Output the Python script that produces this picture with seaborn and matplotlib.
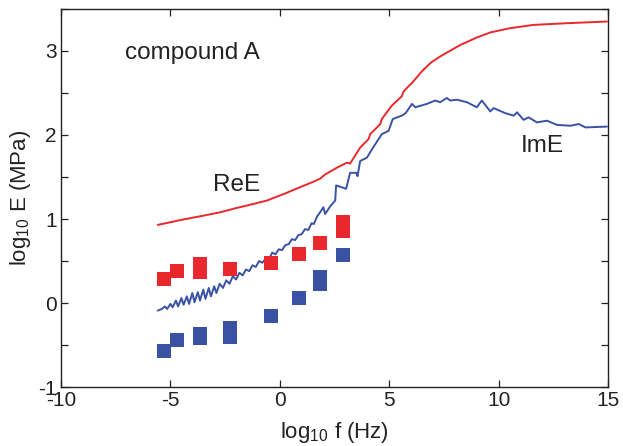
import numpy as np
import pandas as pd
import matplotlib
matplotlib.use("Agg")
import matplotlib.pyplot as plt
from matplotlib.ticker import MultipleLocator
import seaborn as sns

# ---- data ----
re_x = [-5.58, -4.5, -3.5, -2.73, -2.0, -1.2, -0.59, 0.2, 0.93, 1.5, 1.84, 2.07, 2.6, 3.06,
        3.21, 3.67, 4.05, 4.13, 4.59, 4.66, 5.12, 5.57, 5.66, 6.11, 6.5, 6.9, 7.3, 7.63,
        8.24, 9.0, 9.62, 10.5, 11.6, 13.12, 14.95]
re_y = [0.93, 0.99, 1.04, 1.08, 1.13, 1.18, 1.22, 1.30, 1.38, 1.44, 1.48, 1.53, 1.61, 1.67,
        1.66, 1.85, 1.95, 2.01, 2.13, 2.19, 2.35, 2.46, 2.52, 2.64, 2.76, 2.86, 2.93, 2.98,
        3.07, 3.16, 3.22, 3.27, 3.31, 3.33, 3.35]

im_x = [-5.58, -5.40, -5.25, -5.15, -5.00, -4.90, -4.75, -4.65, -4.50, -4.40, -4.25, -4.15,
        -4.00, -3.90, -3.75, -3.65, -3.50, -3.40, -3.25, -3.15, -3.00, -2.90, -2.75, -2.60,
        -2.45, -2.30, -2.15, -2.00, -1.85, -1.70, -1.55, -1.40, -1.25, -1.10, -0.95, -0.80,
        -0.65, -0.50, -0.35, -0.20, -0.05, 0.10, 0.25, 0.40, 0.55, 0.70, 0.85, 1.00, 1.15,
        1.30, 1.45, 1.55, 1.70, 1.84, 1.99, 2.07, 2.30, 2.53, 2.57, 3.03, 3.21, 3.49, 3.55,
        3.67, 3.98, 4.21, 4.66, 4.97, 5.16, 5.57, 5.75, 6.04, 6.19, 6.72, 7.10, 7.33, 7.63,
        7.79, 8.09, 8.55, 9.00, 9.23, 9.62, 9.77, 10.30, 10.69, 10.84,
        11.14, 11.37, 11.75, 12.21, 12.67, 13.28, 13.66, 13.97, 14.95]
im_y = [-0.09, -0.07, -0.04, -0.07, -0.01, -0.05, 0.03, -0.04, 0.06, -0.02, 0.08, -0.01,
        0.12, 0.01, 0.13, 0.03, 0.16, 0.05, 0.18, 0.08, 0.20, 0.12, 0.23, 0.18,
        0.27, 0.23, 0.32, 0.28, 0.36, 0.33, 0.40, 0.38, 0.45, 0.43, 0.50, 0.48,
        0.53, 0.52, 0.60, 0.58, 0.64, 0.63, 0.69, 0.70, 0.76, 0.75, 0.81, 0.82, 0.88,
        0.87, 0.95, 0.94, 1.03, 1.08, 1.14, 1.06, 1.15, 1.22, 1.40, 1.36, 1.55, 1.55, 1.51,
        1.69, 1.73, 1.83, 2.01, 2.05, 2.19, 2.23, 2.26, 2.37, 2.33, 2.37, 2.41, 2.39, 2.44,
        2.41, 2.42, 2.39, 2.33, 2.41, 2.28, 2.32, 2.26, 2.23, 2.27,
        2.18, 2.21, 2.15, 2.17, 2.12, 2.11, 2.13, 2.09, 2.10]

re_sq_x = [-5.29, -4.70, -3.63, -3.63, -2.26, -0.41, 0.87, 1.83, 2.88, 2.88]
re_sq_y = [0.29, 0.385, 0.46, 0.37, 0.41, 0.48, 0.58, 0.72, 0.96, 0.86]
im_sq_x = [-5.29, -4.70, -3.63, -3.63, -2.26, -2.26, -0.41, 0.87, 1.83, 1.83, 2.88]
im_sq_y = [-0.565, -0.437, -0.365, -0.41, -0.30, -0.40, -0.15, 0.06, 0.31, 0.23, 0.57]

xticks = [-10, -5, 0, 5, 10, 15]
yticks = [-1, 0, 1, 2, 3]

RED = "#E8282D"
BLUE = "#3A52A4"
INK = "#222222"

# ---- style ----
sns.set_theme(style="white")
plt.rcParams["font.family"] = ["Liberation Sans", "DejaVu Sans"]
plt.rcParams["mathtext.fontset"] = "custom"
plt.rcParams["mathtext.rm"] = "Liberation Sans"
plt.rcParams["mathtext.it"] = "Liberation Sans"
plt.rcParams["axes.unicode_minus"] = False

fig = plt.figure(figsize=(6.23, 4.46), dpi=100)
ax = fig.add_axes([0.098, 0.132, 0.878, 0.848])

df_re = pd.DataFrame({"x": re_x, "y": re_y})
df_im = pd.DataFrame({"x": im_x, "y": im_y})
sns.lineplot(data=df_re, x="x", y="y", ax=ax, color=RED, lw=1.4, sort=False, estimator=None)
sns.lineplot(data=df_im, x="x", y="y", ax=ax, color=BLUE, lw=1.4, sort=False, estimator=None)

df_rs = pd.DataFrame({"x": re_sq_x, "y": re_sq_y})
df_is = pd.DataFrame({"x": im_sq_x, "y": im_sq_y})
sns.scatterplot(data=df_rs, x="x", y="y", ax=ax, color=RED, marker="s", s=88, linewidth=0, zorder=3)
sns.scatterplot(data=df_is, x="x", y="y", ax=ax, color=BLUE, marker="s", s=88, linewidth=0, zorder=3)

ax.set_xlim(-10, 15)
ax.set_ylim(-1, 3.5)
ax.set_xticks(xticks)
ax.set_xticklabels([str(t) for t in xticks])
ax.set_yticks(yticks)
ax.set_yticklabels([str(t) for t in yticks])
ax.yaxis.set_minor_locator(MultipleLocator(0.5))
ax.tick_params(which="both", direction="in", top=True, right=True, bottom=True, left=True,
               length=5, width=0.9, color=INK, labelsize=15, labelcolor=INK, pad=3)
ax.tick_params(axis="x", pad=3)
for sp in ax.spines.values():
    sp.set_color(INK)
    sp.set_linewidth(1.0)

ax.set_xlabel("log$_{10}$ f (Hz)", fontsize=16, labelpad=7, color=INK)
ax.set_ylabel("log$_{10}$ E (MPa)", fontsize=16, labelpad=4, color=INK)

ax.text(-7.07, 2.97, "compound A", fontsize=17.5, va="center", ha="left", color=INK)
ax.text(-3.05, 1.40, "ReE", fontsize=17.5, va="center", ha="left", color=INK)
ax.text(10.99, 1.87, "ImE", fontsize=17.5, va="center", ha="left", color=INK)

fig.savefig("out.png", dpi=100)
